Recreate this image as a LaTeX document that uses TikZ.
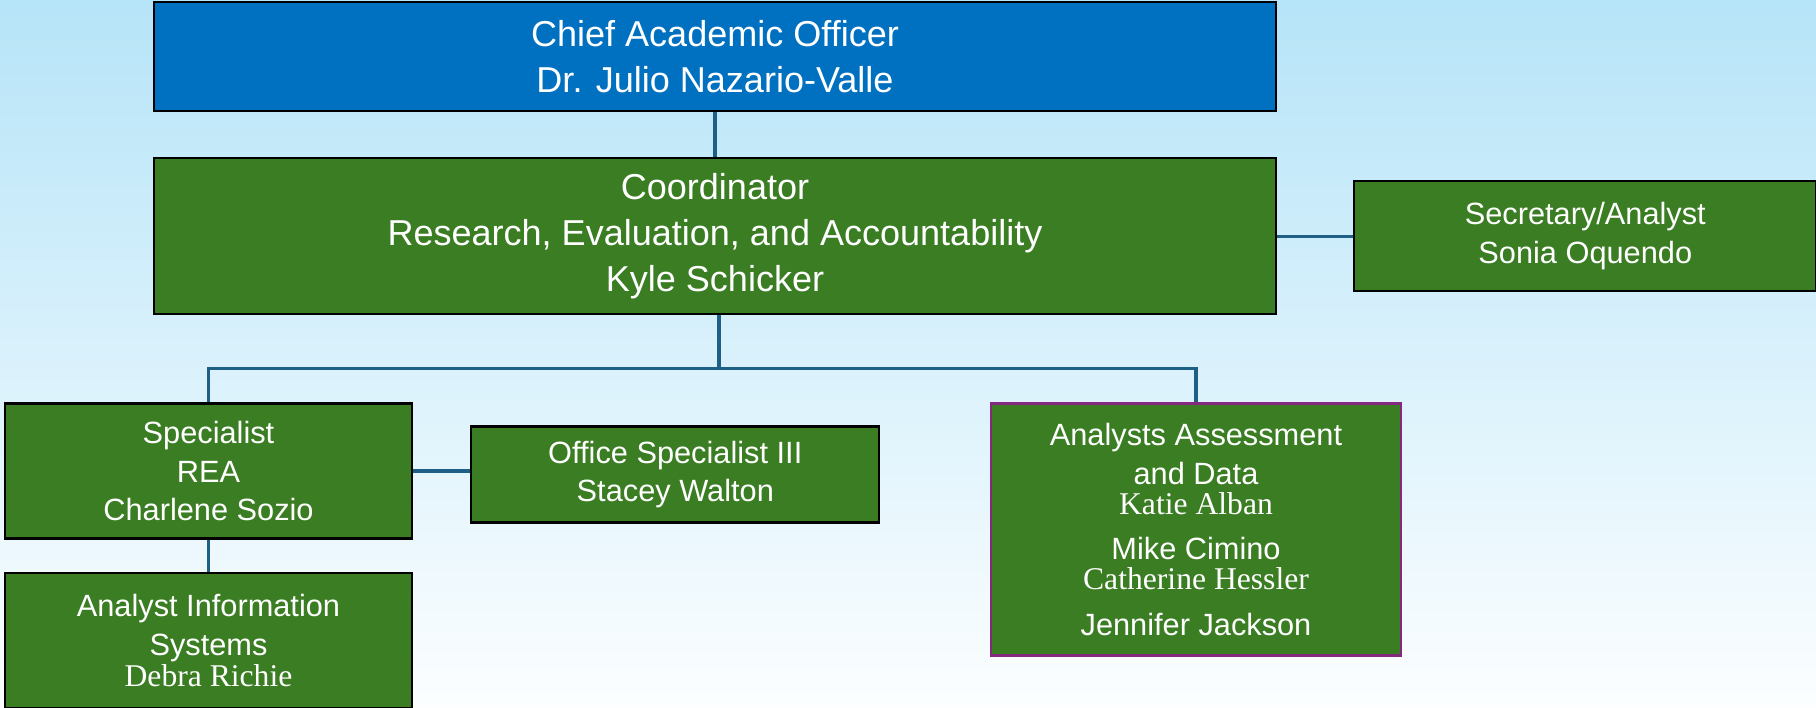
\documentclass[tikz,border=0pt]{standalone}
\usepackage{fontspec}
\setmainfont{Liberation Sans}
\newfontfamily\namefont{Liberation Serif}
\usepackage{xcolor}
\usetikzlibrary{positioning, backgrounds}

\definecolor{chiefblue}{HTML}{0070C0}
\definecolor{boxgreen}{HTML}{3A7D22}
\definecolor{linkblue}{HTML}{1D5F85}
\definecolor{boxpurple}{HTML}{84297F}
\definecolor{skytop}{HTML}{B6E4F8}
\definecolor{skymid}{HTML}{EAF6FC}
\definecolor{skybot}{HTML}{FCFEFF}

\begin{document}
\begin{tikzpicture}[
    node distance=0.9cm,
    unit/.style={draw=black, line width=1.3pt, rectangle, text=white, align=center, inner sep=2pt},
    bigunit/.style={unit, fill=boxgreen, minimum width=22.44cm, font=\fontsize{20.5}{26}\selectfont},
    smallunit/.style={unit, fill=boxgreen, font=\fontsize{17.5}{22}\selectfont},
    link/.style={draw=linkblue, line width=2pt}
]
    % Page and background
    \useasboundingbox (0,0) rectangle (36.32,-14.14);
    \fill[top color=skytop, middle color=skymid, bottom color=skybot] (0,0) rectangle (36.32,-14.14);

    % Top of the chart
    \node[bigunit, fill=chiefblue, minimum height=2.18cm] (chief) at (14.30,-1.13)
        {Chief Academic Officer\\Dr. Julio Nazario-Valle};
    \node[bigunit, below=0.9cm of chief, minimum height=3.12cm] (coord)
        {Coordinator\\Research, Evaluation, and Accountability\\Kyle Schicker};
    \node[smallunit, right=1.52cm of coord, minimum width=9.24cm, minimum height=2.2cm] (secretary)
        {Secretary/Analyst\\Sonia Oquendo};

    % Staff under the coordinator
    \node[smallunit, below=1.74cm of coord, xshift=-10.13cm, minimum width=8.14cm, minimum height=2.7cm] (specialist)
        {Specialist\\REA\\Charlene Sozio};
    \node[smallunit, right=1.14cm of specialist, yshift=-0.07cm, minimum width=8.16cm, minimum height=1.92cm] (office)
        {Office Specialist III\\Stacey Walton};
    \node[smallunit, below=0.64cm of specialist, minimum width=8.14cm, minimum height=2.7cm] (infosys)
        {Analyst Information\\Systems\\[-4.5pt]{\namefont\fontsize{18}{22}\selectfont Debra Richie}};
    \node[smallunit, draw=boxpurple, below=1.74cm of coord, xshift=9.62cm, minimum width=8.2cm, minimum height=5.04cm] (assess)
        {Analysts Assessment\\and Data\\[-5pt]{\namefont\fontsize{18}{22}\selectfont Katie Alban}\\[4pt]Mike Cimino\\[-5pt]{\namefont\fontsize{18}{22}\selectfont Catherine Hessler}\\[4pt]Jennifer Jackson};

    % Connectors
    \draw[link] (chief.south) -- (coord.north);
    \draw[link] (coord.east) -- (secretary.west);
    \draw[link] ([xshift=0.08cm]coord.south) -- ++(0,-1.06) coordinate (bus);
    \draw[link] (specialist.north) |- (bus) -| (assess.north);
    \draw[link] (specialist.east) -- (specialist.east -| office.west);
    \draw[link] (specialist.south) -- (infosys.north);

\end{tikzpicture}
\end{document}
